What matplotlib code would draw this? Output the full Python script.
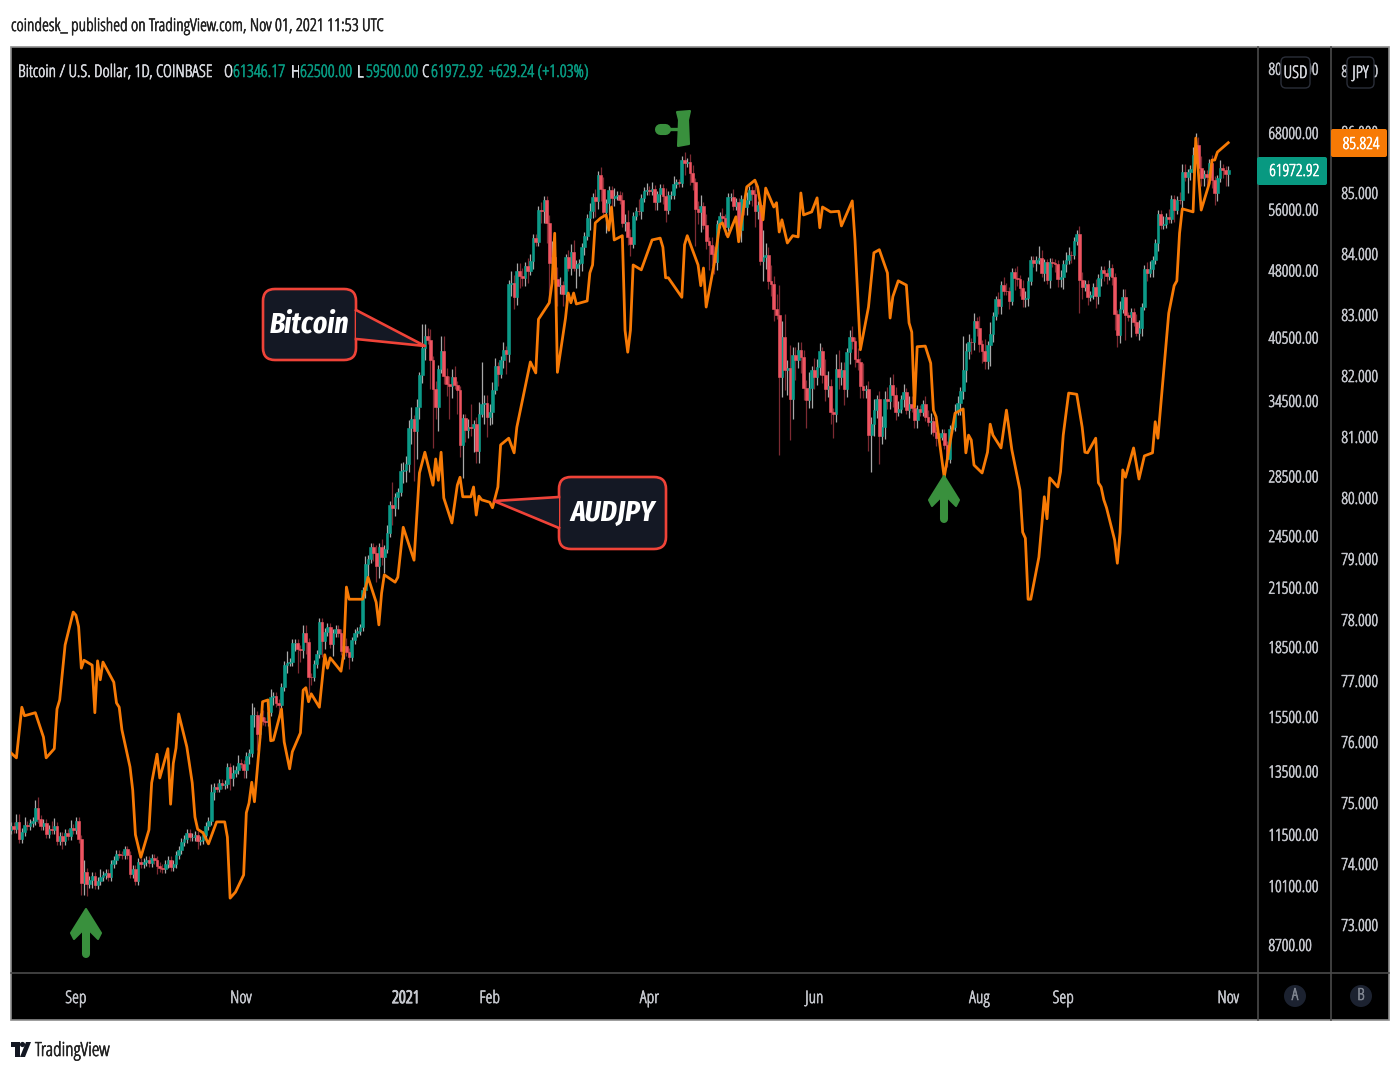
import numpy as np
import pandas as pd
import matplotlib
matplotlib.use('Agg')
import matplotlib.pyplot as plt
import matplotlib.patheffects as pe
from matplotlib.text import Text
from matplotlib.patches import Polygon, FancyBboxPatch, Circle, Rectangle
from matplotlib.ticker import FixedLocator, NullLocator

plt.rcParams['font.family'] = ['Open Sans', 'DejaVu Sans']
plt.rcParams['font.stretch'] = 'condensed'

# BTCUSD daily closes, month by month, first candle is 8 Aug 2020
close_aug20 = [11770,11680,11880,11390,11570,11780,11770,11860,11910,12300,11960,11750,11860,11520,11680,11650,11760,11330,11470,11320,11540,11470,11710,11650]
close_sep20 = [11920,11390,10170,10470,10160,10260,10370,10120,10230,10340,10390,10440,10330,10680,10790,10950,10940,10930,11080,10920,10420,10540,10240,10740,10690,10730,10780,10700,10840,10780]
close_oct20 = [10620,10570,10550,10670,10790,10600,10670,10920,11060,11300,11380,11540,11430,11430,11500,11320,11360,11500,11750,11920,12820,12970,12930,13120,13030,13070,13640,13280,13460,13560,13800]
close_nov20 = [13760,13560,14030,14150,15590,15590,14840,15480,15330,15300,15700,16300,16340,16070,15960,16730,17660,17790,17820,18680,18710,18420,18370,19160,18740,17150,17140,17720,18180,19700]
close_dec20 = [18790,19230,19450,18650,19150,19370,19180,18320,18550,18250,18040,18810,19170,19280,19440,21350,22840,23110,23860,23480,22730,23820,23240,23730,24700,26490,26280,27040,27370,28880,28990]
close_jan21 = [29400,32200,33000,31990,34000,36800,39500,40670,40240,38240,35570,34000,37390,39150,36770,36020,35820,36630,35900,35490,30850,33010,32090,32280,32250,32510,30400,33420,34270,34300,33110]
close_feb21 = [33530,35510,37670,36930,38290,39260,38870,46450,46510,44840,47990,47380,47150,48580,47930,49130,52120,51560,55910,55870,57410,54130,48870,49700,47000,46180,46280,45240]
close_mar21 = [49620,48370,50370,48370,48760,48880,50970,52380,54880,55880,57800,57220,61180,59000,55630,56900,58910,57650,58030,58110,57350,54080,54340,52300,51310,55070,55840,55780,57620,58780,58800]
close_apr21 = [58730,58960,57060,58200,59130,58020,55950,58080,58100,59770,59990,59840,63580,62980,63220,61400,60020,56150,55660,56470,53800,51700,51190,50100,49070,54030,55070,54880,53580,57800]
close_may21 = [57800,56570,57170,53240,57480,56420,57360,58860,58250,55860,56700,49150,49700,49920,46760,46430,43540,42900,36700,40600,37300,37500,34700,38800,38310,39240,38530,35680,34610,35680,37340]
close_jun21 = [36690,37580,39190,36880,35530,35800,33590,33400,37390,36690,37340,35550,39020,40520,40160,38350,38090,35820,35480,35600,31680,32510,33680,34660,31590,32280,34700,34500,35900,35040]
close_jul21 = [33530,33820,34660,35290,33700,34220,33860,32880,33810,33510,34260,33090,32730,32820,31880,31390,31530,31790,30840,29790,32140,32310,33590,34290,35350,37340,39190,40030,40020,42230,41490]
close_aug21 = [39860,39150,38200,39720,40890,42830,44610,43830,46280,45590,45560,44420,47830,47100,47040,45930,44690,44720,46760,49330,48870,49290,49530,47680,48990,46850,49070,48900,48810,46990,47170]
close_sep21 = [48840,49280,49940,49920,51790,52690,46860,46070,46400,44850,45160,46060,44950,47110,48120,47750,47300,48300,47250,43010,40730,43580,44890,42840,42700,43190,42170,41030,41520,43820]
close_oct21 = [48140,47660,48230,49250,51490,55340,53800,53970,54960,54690,57480,56000,57370,57360,61670,60870,61530,62030,64280,66000,62210,60690,61300,60860,63080,60330,58450,60600,62270,61890,61346.17]
close_nov21 = [61972.92]

# wick lengths in percent above the body
wick_up = [1,1,2,2,1,2,1,1,1,2,3,1,1,1,1,2,2,1,1,1,1,1,2,1,
    1,1,1,3,1,1,1,1,1,2,1,1,1,1,1,1,1,1,1,1,1,1,1,1,1,1,1,1,1,1,
    1,1,1,1,1,1,1,1,1,1,1,1,1,1,1,1,1,1,1,1,2,1,1,1,1,1,1,1,2,1,2,
    1,1,1,1,3,2,1,1,2,1,1,2,1,1,1,1,1,3,1,1,1,1,1,2,2,1,1,1,1,1,
    1,1,1,1,1,1,1,1,1,2,1,1,1,1,1,1,2,1,1,1,2,1,2,1,2,1,6,1,1,2,2,
    2,2,3,1,2,1,6,3,2,3,1,2,1,4,4,2,2,2,3,1,1,1,1,2,6,1,2,3,11,2,2,
    2,2,2,1,1,2,1,1,3,2,2,2,2,1,2,2,1,1,1,2,1,1,2,4,2,3,2,1,
    1,2,2,3,1,1,1,1,1,2,1,2,1,2,3,1,1,1,2,1,1,2,2,3,2,1,1,3,1,1,2,
    1,2,1,1,1,1,2,1,1,2,1,1,1,2,1,2,2,1,2,3,1,3,1,2,2,1,1,2,1,1,
    1,2,1,1,1,1,2,1,1,3,1,1,7,3,2,4,2,4,8,4,6,2,6,2,2,2,2,2,2,4,1,
    3,2,2,1,4,4,2,1,4,5,2,2,1,2,3,1,3,1,6,1,2,2,3,1,2,3,2,3,2,3,
    2,2,1,2,1,2,2,1,1,1,1,2,2,2,1,1,1,1,1,1,1,1,2,2,1,9,2,2,1,2,1,
    3,1,3,1,3,1,1,2,1,2,2,1,1,1,3,1,2,2,1,1,1,1,3,2,1,1,1,1,1,1,2,
    1,2,2,1,1,1,2,2,1,1,1,1,2,1,1,1,1,2,1,1,1,2,2,2,1,1,1,2,2,1,
    1,2,2,1,1,1,1,2,1,2,1,1,1,2,2,2,1,1,2,3,2,3,1,1,1,2,1,1,2,1,1,
    1]

# wick lengths in percent below the body
wick_dn = [1,1,1,1,1,1,1,1,1,1,1,1,1,1,1,1,1,1,1,2,1,1,1,1,
    1,1,3,3,3,1,2,1,1,1,1,1,1,1,1,1,1,1,1,1,1,1,1,1,1,1,1,1,1,1,
    2,1,1,1,1,1,1,1,1,1,1,1,1,1,1,2,1,1,1,1,1,2,1,1,1,1,1,3,2,1,1,
    1,2,2,2,1,3,4,1,1,1,1,1,2,1,2,1,1,2,1,1,2,6,3,2,3,4,2,1,1,1,
    4,2,1,1,3,1,1,1,2,1,3,1,1,1,1,1,2,3,1,2,4,3,2,4,1,1,4,2,3,1,3,
    3,2,4,12,7,3,2,3,1,7,14,3,6,1,2,3,8,3,1,6,3,8,3,2,2,6,3,3,1,5,5,
    2,3,1,3,1,2,5,2,3,3,2,3,2,2,3,1,2,1,1,3,3,5,9,3,1,5,2,3,
    3,1,2,1,5,3,2,2,1,3,2,4,2,3,1,5,3,2,2,1,1,1,2,2,3,1,1,1,2,1,1,
    1,1,2,2,2,2,3,1,1,1,1,1,1,3,1,3,2,9,3,5,1,2,6,3,3,2,1,2,2,1,
    1,1,1,2,3,2,2,1,3,4,2,1,5,3,2,3,3,1,18,5,5,6,10,5,5,2,4,3,7,2,5,
    3,2,2,2,3,2,3,6,2,3,2,4,2,3,2,2,2,3,2,2,4,9,3,2,7,2,3,2,2,3,
    2,1,1,2,1,2,1,2,2,1,1,1,1,3,1,2,1,1,1,2,1,1,1,1,3,2,3,2,3,2,2,
    2,3,2,2,5,2,1,2,2,1,1,2,1,3,2,2,2,2,2,1,1,2,1,1,2,1,2,1,2,2,2,
    3,2,1,2,1,1,8,3,1,2,1,1,3,2,2,2,2,1,2,4,3,2,1,6,1,5,1,1,2,2,
    1,2,1,2,1,2,1,1,1,1,1,3,1,1,2,1,4,2,1,2,3,2,2,2,1,2,3,2,1,2,3,
    3]

# AUDJPY line, day number counted from 8 Aug 2020 and close
audjpy_day = [0,2,4,5,9,12,13,16,17,18,20,23,24,25,26,27,30,31,32,33,34,38,39,40,41,44,45,46,48,51,52,54,55,58,59,60,61,62,65,67,68,69,71,73,76,79,80,81,83,86,87,88,89,90,92,93,95,96,97,100,101,103,104,107,108,109,110,111,114,116,117,118,122,123,124,125,130,132,135,136,137,138,142,143,145,149,151,153,156,157,158,159,160,163,165,166,167,170,171,172,173,174,177,178,180,181,184,186,187,192,194,195,199,200,201,202,205,206,207,208,209,213,214,215,216,218,220,221,222,223,226,227,228,229,230,233,237,240,241,242,243,248,249,250,254,255,256,257,260,262,263,265,268,269,272,275,276,278,279,282,283,284,285,287,289,291,292,293,296,298,299,300,303,306,307,311,312,314,317,319,321,324,325,326,328,331,332,333,334,335,338,340,341,342,345,349,352,353,354,355,356,359,361,362,363,366,368,370,373,374,375,376,377,380,382,383,384,387,388,389,391,394,396,397,398,401,402,403,404,405,408,409,410,411,412,415,417,419,422,423,424,428,430,431,432,433,437,438,440,443,444,445,446,450]
audjpy_close = [75.82,75.74,76.57,76.43,76.48,76.08,75.74,75.89,76.54,76.69,77.59,78.13,78.08,77.89,77.21,77.34,77.26,76.48,77.33,77.02,77.31,76.98,76.64,76.57,76.20,75.59,75.21,74.48,74.11,74.56,75.33,75.80,75.41,75.89,74.98,75.65,75.90,76.46,75.92,75.33,74.77,74.57,74.51,74.33,74.69,74.69,74.44,73.44,73.54,73.82,74.84,75.00,75.34,75.02,76.03,76.66,76.69,76.02,76.03,76.54,76.00,75.56,75.84,76.15,76.85,76.89,76.66,76.79,76.57,77.43,77.21,77.38,77.16,77.46,78.54,78.34,78.34,78.70,78.29,77.92,78.44,78.74,78.62,78.70,79.52,78.98,80.41,80.75,80.21,80.64,80.29,80.75,80.00,79.59,80.21,80.34,80.02,80.02,80.18,79.72,80.03,79.97,79.93,79.84,80.18,80.87,80.98,80.74,81.16,82.23,82.05,82.93,83.20,83.52,84.34,82.06,82.95,83.36,83.20,83.36,83.18,83.23,83.69,83.82,84.51,84.59,84.64,84.39,84.77,84.23,84.30,82.75,82.39,82.75,83.82,83.74,84.23,84.26,84.11,83.61,83.61,83.29,84.15,84.30,83.82,83.48,83.77,83.13,83.85,84.48,84.51,84.28,84.61,84.20,85.10,85.21,85.10,84.56,85.08,84.77,84.84,84.36,84.56,84.18,84.30,84.28,85.00,84.64,84.69,84.92,84.43,84.77,84.69,84.70,84.46,84.87,84.23,82.43,83.13,84.02,84.07,83.69,82.95,83.30,83.56,83.49,82.87,82.72,81.49,82.48,82.49,82.21,81.44,81.33,80.34,81.39,81.46,80.74,81.03,80.95,80.54,80.41,80.75,81.21,81.03,80.82,81.44,80.79,80.13,79.44,79.34,78.34,78.34,79.03,80.02,79.66,80.33,80.18,80.43,81.03,81.72,81.70,81.16,80.75,80.74,80.98,80.25,80.18,79.97,79.84,79.31,78.93,79.43,80.46,80.34,80.82,80.31,80.69,80.74,81.25,80.98,83.03,83.48,83.56,84.34,84.74,84.69,85.90,84.72,85.16,85.54,85.54,85.67,85.824]

usd_ticks = [8700,10100,11500,13500,15500,18500,21500,24500,28500,34500,40500,48000,56000,68000,80000]
jpy_ticks = [73,74,75,76,77,78,79,80,81,82,83,84,85,86,87]
month_dates = ['2020-09-01','2020-11-01','2021-01-01','2021-02-01','2021-04-01','2021-06-01','2021-08-01','2021-09-01','2021-11-01']
month_labels = ['Sep','Nov','2021','Feb','Apr','Jun','Aug','Sep','Nov']

close = np.array(close_aug20 + close_sep20 + close_oct20 + close_nov20 + close_dec20 + close_jan21 + close_feb21
                 + close_mar21 + close_apr21 + close_may21 + close_jun21 + close_jul21 + close_aug21 + close_sep21
                 + close_oct21 + close_nov21, dtype=float)
opens = np.r_[11640.0, close[:-1]]
body_top = np.maximum(opens, close)
body_low = np.minimum(opens, close)
high = body_top * (1 + np.array(wick_up) / 100)
low = body_low * (1 - np.array(wick_dn) / 100)
days = np.arange(len(close))
rising = close >= opens

TEAL = '#0b9a88'
RED = '#ef5461'
ORANGE = '#f77a05'
GREEN = '#39903d'
AXIS = '#c4c6cc'
LINE = '#4a4a4a'
W, H = 1400, 1080


def px_axes(x0, y0, x1, y1, **kw):
    return fig.add_axes([x0 / W, 1 - y1 / H, (x1 - x0) / W, (y1 - y0) / H], **kw)


fig = plt.figure(figsize=(14, 10.8), dpi=100, facecolor='white')

# black panel with separators
back = px_axes(0, 0, W, H, zorder=0)
back.set_xlim(0, W)
back.set_ylim(H, 0)
back.axis('off')
back.add_patch(Rectangle((11, 47), 1378, 973, fc='black', ec='#8c8c8c', lw=1.2))
back.plot([11, 1389], [973, 973], color=LINE, lw=1.2)
back.plot([1258, 1258], [47, 1020], color=LINE, lw=1.2)
back.plot([1331, 1331], [47, 1020], color=LINE, lw=1.2)

# price axes
ax = px_axes(11, 47, 1258, 973, zorder=1)
ax.patch.set_alpha(0)
ax2 = ax.twinx()
ax2.patch.set_alpha(0)

ax.set_yscale('log')
ax.set_xlim(0, 461)
ax.set_ylim(8104, 84545)
ax.vlines(days[rising], low[rising], high[rising], color='#a9a9a9', lw=0.9, zorder=2)
ax.vlines(days[~rising], low[~rising], high[~rising], color='#7c2a32', lw=0.9, zorder=2)
ax.bar(days[rising], (body_top - body_low)[rising], bottom=body_low[rising], width=1.0, color=TEAL, ec=TEAL, lw=0.4, zorder=3)
ax.bar(days[~rising], (body_top - body_low)[~rising], bottom=body_low[~rising], width=1.0, color=RED, ec=RED, lw=0.4, zorder=3)

month_pos = [(pd.Timestamp(d) - pd.Timestamp('2020-08-08')).days for d in month_dates]
ax.set_xticks(month_pos)
ax.set_xticklabels(month_labels, fontsize=12.5, color=AXIS)
ax.tick_params(axis='x', length=0, pad=13)

ax.yaxis.tick_right()
ax.yaxis.set_major_locator(FixedLocator(usd_ticks))
ax.yaxis.set_minor_locator(NullLocator())
ax.set_yticklabels(['%.2f' % t for t in usd_ticks], fontsize=12, color=AXIS)
ax.tick_params(axis='y', length=0, pad=7.5)
for s in ax.spines.values():
    s.set_visible(False)

ax2.set_ylim(72.213, 87.393)
ax2.plot(audjpy_day, audjpy_close, color=ORANGE, lw=2.0, solid_joinstyle='round', zorder=5)
ax2.set_yticks(jpy_ticks)
ax2.set_yticklabels(['%.3f' % t for t in jpy_ticks], fontsize=12, color=AXIS)
ax2.tick_params(axis='y', length=0, pad=60)
for s in ax2.spines.values():
    s.set_visible(False)

# annotations and badges on top, in pixel coordinates
top = px_axes(0, 0, W, H, zorder=5)
top.set_xlim(0, W)
top.set_ylim(H, 0)
top.axis('off')
top.patch.set_alpha(0)

callout_labels = []


def callout(x0, y0, x1, y1, base, tip, label):
    top.add_patch(FancyBboxPatch((x0 + 10, y0 + 10), x1 - x0 - 20, y1 - y0 - 20, boxstyle='round,pad=10,rounding_size=12',
                                 fc='#141824', ec='#ef4338', lw=1.9, zorder=2))
    top.add_patch(Polygon([base[0], tip, base[1]], closed=True, fc='#141824', ec='none', zorder=3))
    top.plot([base[0][0], tip[0], base[1][0]], [base[0][1], tip[1], base[1][1]], color='#ef4338', lw=1.9, zorder=4)
    t = top.text((x0 + x1) / 2, (y0 + y1) / 2, label, color='white', fontsize=21.5, fontweight='bold', fontstyle='italic',
                 family=['Fira Sans Extra Condensed', 'Roboto Condensed', 'Open Sans'], stretch='normal',
                 ha='center', va='center', zorder=5)
    callout_labels.append(t)


callout(263, 289, 356, 360, [(356, 310), (356, 339)], (425, 346), 'Bitcoin')
callout(559, 477, 666, 549, [(559, 497), (559, 528)], (494, 501), 'AUDJPY')


def up_arrow(cx, tip, bottom):
    top.plot([cx, cx], [tip + 20, bottom - 4], color=GREEN, lw=5.8, solid_capstyle='round', zorder=6)
    top.add_patch(Polygon([(cx, tip), (cx + 15, tip + 24), (cx + 12, tip + 30), (cx + 2, tip + 20), (cx - 2, tip + 20),
                           (cx - 12, tip + 30), (cx - 15, tip + 24)], closed=True, fc=GREEN, ec=GREEN, lw=1.5,
                          joinstyle='round', zorder=6))


up_arrow(86, 909, 958)
up_arrow(944, 476, 523)

# hammer mark above the April top
top.plot([660, 680], [129, 129], color=GREEN, lw=2.4, zorder=6)
top.plot([660, 665], [129, 129], color=GREEN, lw=8, solid_capstyle='round', zorder=6)
top.add_patch(Polygon([(677, 112), (690, 111), (688, 120), (689, 144), (678, 146), (679, 120)], closed=True,
                      fc=GREEN, ec=GREEN, lw=1.5, joinstyle='round', zorder=6))

# last price tags
top.add_patch(FancyBboxPatch((1258, 158), 68, 26, boxstyle='round,pad=1,rounding_size=2', fc='#089981', ec='none', zorder=3))
top.text(1294, 172, '61972.92', color='white', fontsize=12, ha='center', va='center', zorder=4)
top.add_patch(FancyBboxPatch((1332, 130), 54, 26, boxstyle='round,pad=1,rounding_size=2', fc='#f77a05', ec='none', zorder=3))
top.text(1361, 145, '85.824', color='white', fontsize=12, ha='center', va='center', zorder=4)

# currency badges
for x0, x1, label in [(1281, 1310, 'USD'), (1347, 1374, 'JPY')]:
    top.add_patch(FancyBboxPatch((x0 + 4, 61), x1 - x0 - 8, 23, boxstyle='round,pad=4,rounding_size=5', fc='black', ec='#2a2e39', lw=1, zorder=3))
    top.text((x0 + x1) / 2, 74, label, color='#d6d8de', fontsize=12.5, ha='center', va='center', zorder=4)

for cx, label in [(1295, 'A'), (1361, 'B')]:
    top.add_patch(Circle((cx, 996), 11, fc='#1c2230', ec='none', zorder=3))
    top.text(cx, 996, label, color='#7f8590', fontsize=12, ha='center', va='center', zorder=4)

# symbol line
top.text(18, 73, 'Bitcoin / U.S. Dollar, 1D, COINBASE', color='#d8dae0', fontsize=12.5, va='center')
for x, s, c in [(224, 'O', '#d8dae0'), (233, '61346.17', '#089981'), (291, 'H', '#d8dae0'), (300, '62500.00', '#089981'),
                (357, 'L', '#d8dae0'), (366, '59500.00', '#089981'), (422, 'C', '#d8dae0'), (431, '61972.92', '#089981'),
                (489, '+629.24 (+1.03%)', '#089981')]:
    top.text(x, 73, s, color=c, fontsize=12.5, va='center')

# header and footer
top.text(11, 27, 'coindesk_ published on TradingView.com, Nov 01, 2021 11:53 UTC', color='#222222', fontsize=12.6, va='center')
top.text(35, 1051, 'TradingView', color='#222222', fontsize=14, va='center')
top.add_patch(Polygon([(11, 1042), (20, 1042), (20, 1057), (15, 1057), (15, 1047), (11, 1047)], closed=True, fc='#131722', ec='none'))
top.add_patch(Circle((22.5, 1044.5), 2.6, fc='#131722', ec='none'))
top.add_patch(Polygon([(26, 1042), (31, 1042), (25, 1057), (20, 1057)], closed=True, fc='#131722', ec='none'))

# the condensed face is light, thicken it a little
fig.canvas.draw()
for t in fig.findobj(Text):
    if t not in callout_labels and t.get_text():
        t.set_path_effects([pe.withStroke(linewidth=0.45, foreground=t.get_color())])
for t in ax.get_xticklabels():
    if t.get_text() == '2021':
        t.set_path_effects([pe.withStroke(linewidth=0.9, foreground=t.get_color())])

fig.savefig('out.png', dpi=100, facecolor='white')
